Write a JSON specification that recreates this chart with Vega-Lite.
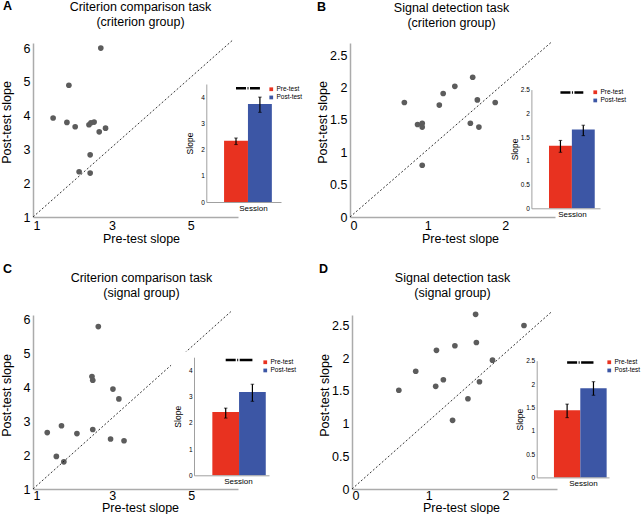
{
  "$schema": "https://vega.github.io/schema/vega-lite/v6.json",
  "background": "white",
  "padding": {"left": 0, "top": 0, "right": 0, "bottom": 0},
  "config": {
    "font": "Liberation Sans",
    "view": {"stroke": null},
    "axis": {"grid": false, "ticks": false, "labelOverlap": false, "tickCount": 20, "format": "~g", "domainColor": "#ababab", "domainWidth": 1.5, "labelColor": "#000", "titleColor": "#000", "titleFontWeight": "normal"},
    "title": {"fontSize": 12.5, "fontWeight": "normal", "color": "#000", "lineHeight": 15, "offset": 12},
    "legend": {"title": null, "orient": "none", "symbolType": "square", "symbolSize": 14, "symbolStrokeWidth": 0, "labelFontSize": 6.5, "rowPadding": 1.2, "labelOffset": 2, "padding": 0}
  },
  "datasets": {
    "scatter": [
      {"panel": "A", "pre": 2.72, "post": 6.0}, {"panel": "A", "pre": 1.91, "post": 4.9}, {"panel": "A", "pre": 1.51, "post": 3.93},
      {"panel": "A", "pre": 1.86, "post": 3.8}, {"panel": "A", "pre": 2.07, "post": 3.67}, {"panel": "A", "pre": 2.42, "post": 3.73},
      {"panel": "A", "pre": 2.47, "post": 3.79}, {"panel": "A", "pre": 2.55, "post": 3.81}, {"panel": "A", "pre": 2.68, "post": 3.52},
      {"panel": "A", "pre": 2.84, "post": 3.63}, {"panel": "A", "pre": 2.45, "post": 2.84}, {"panel": "A", "pre": 2.17, "post": 2.34},
      {"panel": "A", "pre": 2.45, "post": 2.3},
      {"panel": "B", "pre": 0.7, "post": 1.77}, {"panel": "B", "pre": 0.87, "post": 1.43}, {"panel": "B", "pre": 0.93, "post": 1.45},
      {"panel": "B", "pre": 0.93, "post": 1.39}, {"panel": "B", "pre": 0.93, "post": 0.8}, {"panel": "B", "pre": 1.15, "post": 1.73},
      {"panel": "B", "pre": 1.2, "post": 1.91}, {"panel": "B", "pre": 1.35, "post": 2.02}, {"panel": "B", "pre": 1.58, "post": 2.16},
      {"panel": "B", "pre": 1.64, "post": 1.81}, {"panel": "B", "pre": 1.55, "post": 1.45}, {"panel": "B", "pre": 1.66, "post": 1.39},
      {"panel": "B", "pre": 1.87, "post": 1.77},
      {"panel": "C", "pre": 1.36, "post": 2.66}, {"panel": "C", "pre": 1.72, "post": 2.86}, {"panel": "C", "pre": 1.59, "post": 1.96},
      {"panel": "C", "pre": 1.78, "post": 1.8}, {"panel": "C", "pre": 2.11, "post": 2.63}, {"panel": "C", "pre": 2.49, "post": 4.31},
      {"panel": "C", "pre": 2.51, "post": 4.2}, {"panel": "C", "pre": 2.51, "post": 2.75}, {"panel": "C", "pre": 2.65, "post": 5.78},
      {"panel": "C", "pre": 3.02, "post": 3.94}, {"panel": "C", "pre": 3.17, "post": 3.65}, {"panel": "C", "pre": 2.96, "post": 2.47},
      {"panel": "C", "pre": 3.3, "post": 2.42},
      {"panel": "D", "pre": 0.61, "post": 1.51}, {"panel": "D", "pre": 0.83, "post": 1.8}, {"panel": "D", "pre": 1.09, "post": 1.57},
      {"panel": "D", "pre": 1.1, "post": 2.12}, {"panel": "D", "pre": 1.19, "post": 1.67}, {"panel": "D", "pre": 1.34, "post": 2.19},
      {"panel": "D", "pre": 1.31, "post": 1.05}, {"panel": "D", "pre": 1.51, "post": 1.38}, {"panel": "D", "pre": 1.61, "post": 2.67},
      {"panel": "D", "pre": 1.62, "post": 2.24}, {"panel": "D", "pre": 1.66, "post": 1.64}, {"panel": "D", "pre": 1.83, "post": 1.97},
      {"panel": "D", "pre": 2.24, "post": 2.5}
    ],
    "bars": [
      {"panel": "A", "test": "Pre-test", "mean": 2.34, "lo": 2.19, "hi": 2.44},
      {"panel": "A", "test": "Post-test", "mean": 3.74, "lo": 3.42, "hi": 4.0},
      {"panel": "B", "test": "Pre-test", "mean": 1.32, "lo": 1.18, "hi": 1.43},
      {"panel": "B", "test": "Post-test", "mean": 1.66, "lo": 1.53, "hi": 1.75},
      {"panel": "C", "test": "Pre-test", "mean": 2.41, "lo": 2.18, "hi": 2.56},
      {"panel": "C", "test": "Post-test", "mean": 3.17, "lo": 2.82, "hi": 3.47},
      {"panel": "D", "test": "Pre-test", "mean": 1.44, "lo": 1.28, "hi": 1.57},
      {"panel": "D", "test": "Post-test", "mean": 1.91, "lo": 1.76, "hi": 2.05}
    ]
  },
  "spacing": 18,
  "resolve": {"scale": {"color": "independent"}, "legend": {"color": "independent"}},
  "vconcat": [
    {
      "spacing": 13,
      "resolve": {"scale": {"color": "independent"}, "legend": {"color": "independent"}},
      "hconcat": [
        {
          "title": {"text": "A", "anchor": "start", "frame": "bounds", "fontWeight": "bold", "baseline": "top", "offset": 0, "dy": 12, "dx": 3},
          "vconcat": [{
            "title": {"text": ["Criterion comparison task", "(criterion group)"], "dx": 5},
            "width": 205, "height": 174,
            "resolve": {"scale": {"x": "independent", "y": "independent"}},
            "layer": [
              {"layer": [
                {"data": {"name": "scatter"}, "transform": [{"filter": "datum.panel === 'A'"}],
                 "mark": {"type": "circle", "size": 32, "color": "#5c5c5c", "opacity": 1},
                 "encoding": {
                   "x": {"field": "pre", "type": "quantitative", "scale": {"domain": [1, 6.2], "nice": false, "zero": false},
                         "axis": {"values": [1, 3, 5], "format": "~g", "labelFontSize": 12.5, "labelPadding": 2, "title": "Pre-test slope", "titleFontSize": 12.5, "titlePadding": 1, "titleX": 108}},
                   "y": {"field": "post", "type": "quantitative", "scale": {"domain": [1, 6.15], "nice": false, "zero": false},
                         "axis": {"values": [1, 2, 3, 4, 5, 6], "format": "~g", "labelFontSize": 12.5, "labelPadding": 3, "title": "Post-test slope", "titleFontSize": 12.5, "titleX": -20, "titleY": 79}}}},
                {"data": {"values": [{}]},
                 "mark": {"type": "rule", "strokeDash": [2, 2], "strokeWidth": 0.8, "color": "#000"},
                 "encoding": {"x": {"datum": 1, "type": "quantitative"}, "y": {"datum": 1, "type": "quantitative"}, "x2": {"datum": 6.05}, "y2": {"datum": 6.22}}}
              ]},
              {"data": {"name": "bars"}, "transform": [{"filter": "datum.panel === 'A'"}],
               "encoding": {
                 "x": {"field": "test", "type": "nominal", "sort": ["Pre-test", "Post-test"],
                       "scale": {"range": [173.3, 248], "paddingInner": 0, "paddingOuter": 0.563, "align": 0.66},
                       "axis": {"orient": "bottom", "offset": -15, "labels": false, "title": "Session", "titleFontSize": 8, "titlePadding": 2, "titleX": 220, "zindex": 1, "domainWidth": 1, "domainColor": "#a0a0a0"}}
               },
               "layer": [
                 {"mark": {"type": "bar"},
                  "encoding": {
                    "y": {"field": "mean", "type": "quantitative", "scale": {"domain": [0, 4.5], "range": [159, 41], "nice": false},
                          "axis": {"orient": "left", "offset": -173.3, "values": [0, 1, 2, 3, 4], "format": "~g", "labelFontSize": 6.5, "labelPadding": 2, "title": "Slope", "titleFontSize": 8.5, "titleX": -12, "zindex": 1, "domainWidth": 1, "domainColor": "#a0a0a0"}},
                    "color": {"field": "test", "type": "nominal", "scale": {"domain": ["Pre-test", "Post-test"], "range": ["#e83220", "#3c56a5"]},
                              "legend": {"legendX": 235, "legendY": 43}}}},
                 {"mark": {"type": "rule", "color": "#000", "strokeWidth": 1.2},
                  "encoding": {"y": {"field": "lo", "type": "quantitative"}, "y2": {"field": "hi"}}},
                 {"mark": {"type": "tick", "color": "#000", "thickness": 1, "size": 3.5},
                  "encoding": {"y": {"field": "lo", "type": "quantitative"}}},
                 {"mark": {"type": "tick", "color": "#000", "thickness": 1, "size": 3.5},
                  "encoding": {"y": {"field": "hi", "type": "quantitative"}}},
                 {"data": {"values": [{}]},
                  "mark": {"type": "rule", "color": "#000", "strokeWidth": 2.5, "strokeDash": [10, 1.5, 1, 1.5, 30]},
                  "encoding": {"x": {"datum": "Pre-test", "type": "nominal"}, "x2": {"datum": "Post-test"}, "y": {"datum": 4.34, "type": "quantitative"}}}
               ]}
            ]
          }]
        },
        {
          "title": {"text": "B", "anchor": "start", "frame": "bounds", "fontWeight": "bold", "baseline": "top", "offset": 0, "dy": 12, "dx": 1},
          "vconcat": [{
            "title": {"text": ["Signal detection task", "(criterion group)"], "dx": -1},
            "width": 205, "height": 174,
            "resolve": {"scale": {"x": "independent", "y": "independent"}},
            "layer": [
              {"layer": [
                {"data": {"name": "scatter"}, "transform": [{"filter": "datum.panel === 'B'"}],
                 "mark": {"type": "circle", "size": 32, "color": "#5c5c5c", "opacity": 1},
                 "encoding": {
                   "x": {"field": "pre", "type": "quantitative", "scale": {"domain": [0, 2.64], "nice": false, "zero": false},
                         "axis": {"values": [0, 1, 2], "format": "~g", "labelFontSize": 12.5, "labelPadding": 2, "title": "Pre-test slope", "titleFontSize": 12.5, "titlePadding": 1, "titleX": 110}},
                   "y": {"field": "post", "type": "quantitative", "scale": {"domain": [0, 2.69], "nice": false, "zero": false},
                         "axis": {"values": [0, 0.5, 1, 1.5, 2, 2.5], "format": "~g", "labelFontSize": 12.5, "labelPadding": 3, "title": "Post-test slope", "titleFontSize": 12.5, "titleX": -21, "titleY": 79}}}},
                {"data": {"values": [{}]},
                 "mark": {"type": "rule", "strokeDash": [2, 2], "strokeWidth": 0.8, "color": "#000"},
                 "encoding": {"x": {"datum": 0, "type": "quantitative"}, "y": {"datum": 0, "type": "quantitative"}, "x2": {"datum": 2.6}, "y2": {"datum": 2.71}}}
              ]},
              {"data": {"name": "bars"}, "transform": [{"filter": "datum.panel === 'B'"}],
               "encoding": {
                 "x": {"field": "test", "type": "nominal", "sort": ["Pre-test", "Post-test"],
                       "scale": {"range": [181.4, 250], "paddingInner": 0, "paddingOuter": 0.5, "align": 0.77},
                       "axis": {"orient": "bottom", "offset": -8.7, "labels": false, "title": "Session", "titleFontSize": 8, "titlePadding": 2, "titleX": 222, "zindex": 1, "domainWidth": 1, "domainColor": "#a0a0a0"}}
               },
               "layer": [
                 {"mark": {"type": "bar"},
                  "encoding": {
                    "y": {"field": "mean", "type": "quantitative", "scale": {"domain": [0, 2.5], "range": [165.3, 46.6], "nice": false},
                          "axis": {"orient": "left", "offset": -181.4, "values": [0, 0.5, 1, 1.5, 2, 2.5], "format": "~g", "labelFontSize": 6.5, "labelPadding": 2, "title": "Slope", "titleFontSize": 8.5, "titleX": -12, "zindex": 1, "domainWidth": 1, "domainColor": "#a0a0a0"}},
                    "color": {"field": "test", "type": "nominal", "scale": {"domain": ["Pre-test", "Post-test"], "range": ["#e83220", "#3c56a5"]},
                              "legend": {"legendX": 242, "legendY": 46}}}},
                 {"mark": {"type": "rule", "color": "#000", "strokeWidth": 1.2},
                  "encoding": {"y": {"field": "lo", "type": "quantitative"}, "y2": {"field": "hi"}}},
                 {"mark": {"type": "tick", "color": "#000", "thickness": 1, "size": 3.5},
                  "encoding": {"y": {"field": "lo", "type": "quantitative"}}},
                 {"mark": {"type": "tick", "color": "#000", "thickness": 1, "size": 3.5},
                  "encoding": {"y": {"field": "hi", "type": "quantitative"}}},
                 {"data": {"values": [{}]},
                  "mark": {"type": "rule", "color": "#000", "strokeWidth": 2.5, "strokeDash": [10, 1.5, 1, 1.5, 30]},
                  "encoding": {"x": {"datum": "Pre-test", "type": "nominal"}, "x2": {"datum": "Post-test"}, "y": {"datum": 2.44, "type": "quantitative"}}}
               ]}
            ]
          }]
        }
      ]
    },
    {
      "spacing": 21,
      "resolve": {"scale": {"color": "independent"}, "legend": {"color": "independent"}},
      "hconcat": [
        {
          "title": {"text": "C", "anchor": "start", "frame": "bounds", "fontWeight": "bold", "baseline": "alphabetic", "offset": 0, "dy": 14, "dx": 3},
          "vconcat": [{
            "title": {"text": ["Criterion comparison task", "(signal group)"], "dx": 6},
            "width": 205, "height": 174,
            "resolve": {"scale": {"x": "independent", "y": "independent"}},
            "layer": [
              {"layer": [
                {"data": {"name": "scatter"}, "transform": [{"filter": "datum.panel === 'C'"}],
                 "mark": {"type": "circle", "size": 32, "color": "#5c5c5c", "opacity": 1},
                 "encoding": {
                   "x": {"field": "pre", "type": "quantitative", "scale": {"domain": [1, 6.18], "nice": false, "zero": false},
                         "axis": {"values": [1, 3, 5], "format": "~g", "labelFontSize": 12.5, "labelPadding": 0, "title": "Pre-test slope", "titleFontSize": 12.5, "titlePadding": 0, "titleX": 107}},
                   "y": {"field": "post", "type": "quantitative", "scale": {"domain": [1, 6.12], "nice": false, "zero": false},
                         "axis": {"values": [1, 2, 3, 4, 5, 6], "format": "~g", "labelFontSize": 12.5, "labelPadding": 3, "title": "Post-test slope", "titleFontSize": 12.5, "titleX": -20, "titleY": 80}}}},
                {"data": {"values": [{}]},
                 "mark": {"type": "rule", "strokeDash": [2, 2], "strokeWidth": 0.8, "color": "#000"},
                 "encoding": {"x": {"datum": 1, "type": "quantitative"}, "y": {"datum": 1, "type": "quantitative"}, "x2": {"datum": 6.0}, "y2": {"datum": 6.22}}},
                {"data": {"values": [{}]},
                 "mark": {"type": "rect", "color": "white"},
                 "encoding": {"x": {"datum": 4.49, "type": "quantitative"}, "x2": {"datum": 6.3}, "y": {"datum": 1.1, "type": "quantitative"}, "y2": {"datum": 5.04}}}
              ]},
              {"data": {"name": "bars"}, "transform": [{"filter": "datum.panel === 'C'"}],
               "encoding": {
                 "x": {"field": "test", "type": "nominal", "sort": ["Pre-test", "Post-test"],
                       "scale": {"range": [161, 236], "paddingInner": 0, "paddingOuter": 0.404, "align": 0.85},
                       "axis": {"orient": "bottom", "offset": -13.7, "labels": false, "title": "Session", "titleFontSize": 8, "titlePadding": 2, "titleX": 205, "zindex": 1, "domainWidth": 1, "domainColor": "#a0a0a0"}}
               },
               "layer": [
                 {"mark": {"type": "bar"},
                  "encoding": {
                    "y": {"field": "mean", "type": "quantitative", "scale": {"domain": [0, 4.5], "range": [160.3, 42.2], "nice": false},
                          "axis": {"orient": "left", "offset": -161, "values": [0, 1, 2, 3, 4], "format": "~g", "labelFontSize": 6.5, "labelPadding": 2, "title": "Slope", "titleFontSize": 8.5, "titleX": -12, "zindex": 1, "domainWidth": 1, "domainColor": "#a0a0a0"}},
                    "color": {"field": "test", "type": "nominal", "scale": {"domain": ["Pre-test", "Post-test"], "range": ["#e83220", "#3c56a5"]},
                              "legend": {"legendX": 229, "legendY": 44}}}},
                 {"mark": {"type": "rule", "color": "#000", "strokeWidth": 1.2},
                  "encoding": {"y": {"field": "lo", "type": "quantitative"}, "y2": {"field": "hi"}}},
                 {"mark": {"type": "tick", "color": "#000", "thickness": 1, "size": 3.5},
                  "encoding": {"y": {"field": "lo", "type": "quantitative"}}},
                 {"mark": {"type": "tick", "color": "#000", "thickness": 1, "size": 3.5},
                  "encoding": {"y": {"field": "hi", "type": "quantitative"}}},
                 {"data": {"values": [{}]},
                  "mark": {"type": "rule", "color": "#000", "strokeWidth": 2.5, "strokeDash": [10, 1.5, 1, 1.5, 30]},
                  "encoding": {"x": {"datum": "Pre-test", "type": "nominal"}, "x2": {"datum": "Post-test"}, "y": {"datum": 4.39, "type": "quantitative"}}}
               ]}
            ]
          }]
        },
        {
          "title": {"text": "D", "anchor": "start", "frame": "bounds", "fontWeight": "bold", "baseline": "alphabetic", "offset": 0, "dy": 14, "dx": 1},
          "vconcat": [{
            "title": {"text": ["Signal detection task", "(signal group)"], "dx": -2},
            "width": 205, "height": 174,
            "resolve": {"scale": {"x": "independent", "y": "independent"}},
            "layer": [
              {"layer": [
                {"data": {"name": "scatter"}, "transform": [{"filter": "datum.panel === 'D'"}],
                 "mark": {"type": "circle", "size": 32, "color": "#5c5c5c", "opacity": 1},
                 "encoding": {
                   "x": {"field": "pre", "type": "quantitative", "scale": {"domain": [0, 2.67], "nice": false, "zero": false},
                         "axis": {"values": [0, 1, 2], "format": "~g", "labelFontSize": 12.5, "labelPadding": 0, "title": "Pre-test slope", "titleFontSize": 12.5, "titlePadding": 0, "titleX": 109}},
                   "y": {"field": "post", "type": "quantitative", "scale": {"domain": [0, 2.66], "nice": false, "zero": false},
                         "axis": {"values": [0, 0.5, 1, 1.5, 2, 2.5], "format": "~g", "labelFontSize": 12.5, "labelPadding": 3, "title": "Post-test slope", "titleFontSize": 12.5, "titleX": -21, "titleY": 80}}}},
                {"data": {"values": [{}]},
                 "mark": {"type": "rule", "strokeDash": [2, 2], "strokeWidth": 0.8, "color": "#000"},
                 "encoding": {"x": {"datum": 0, "type": "quantitative"}, "y": {"datum": 0, "type": "quantitative"}, "x2": {"datum": 2.6}, "y2": {"datum": 2.71}}}
              ]},
              {"data": {"name": "bars"}, "transform": [{"filter": "datum.panel === 'D'"}],
               "encoding": {
                 "x": {"field": "test", "type": "nominal", "sort": ["Pre-test", "Post-test"],
                       "scale": {"range": [184.7, 257], "paddingInner": 0, "paddingOuter": 0.372, "align": 0.88},
                       "axis": {"orient": "bottom", "offset": -11.6, "labels": false, "title": "Session", "titleFontSize": 8, "titlePadding": 2, "titleX": 231, "zindex": 1, "domainWidth": 1, "domainColor": "#a0a0a0"}}
               },
               "layer": [
                 {"mark": {"type": "bar"},
                  "encoding": {
                    "y": {"field": "mean", "type": "quantitative", "scale": {"domain": [0, 2.5], "range": [162.4, 45.7], "nice": false},
                          "axis": {"orient": "left", "offset": -184.7, "values": [0, 0.5, 1, 1.5, 2, 2.5], "format": "~g", "labelFontSize": 6.5, "labelPadding": 2, "title": "Slope", "titleFontSize": 8.5, "titleX": -12, "zindex": 1, "domainWidth": 1, "domainColor": "#a0a0a0"}},
                    "color": {"field": "test", "type": "nominal", "scale": {"domain": ["Pre-test", "Post-test"], "range": ["#e83220", "#3c56a5"]},
                              "legend": {"legendX": 254, "legendY": 44}}}},
                 {"mark": {"type": "rule", "color": "#000", "strokeWidth": 1.2},
                  "encoding": {"y": {"field": "lo", "type": "quantitative"}, "y2": {"field": "hi"}}},
                 {"mark": {"type": "tick", "color": "#000", "thickness": 1, "size": 3.5},
                  "encoding": {"y": {"field": "lo", "type": "quantitative"}}},
                 {"mark": {"type": "tick", "color": "#000", "thickness": 1, "size": 3.5},
                  "encoding": {"y": {"field": "hi", "type": "quantitative"}}},
                 {"data": {"values": [{}]},
                  "mark": {"type": "rule", "color": "#000", "strokeWidth": 2.5, "strokeDash": [10, 1.5, 1, 1.5, 30]},
                  "encoding": {"x": {"datum": "Pre-test", "type": "nominal"}, "x2": {"datum": "Post-test"}, "y": {"datum": 2.46, "type": "quantitative"}}}
               ]}
            ]
          }]
        }
      ]
    }
  ]
}
